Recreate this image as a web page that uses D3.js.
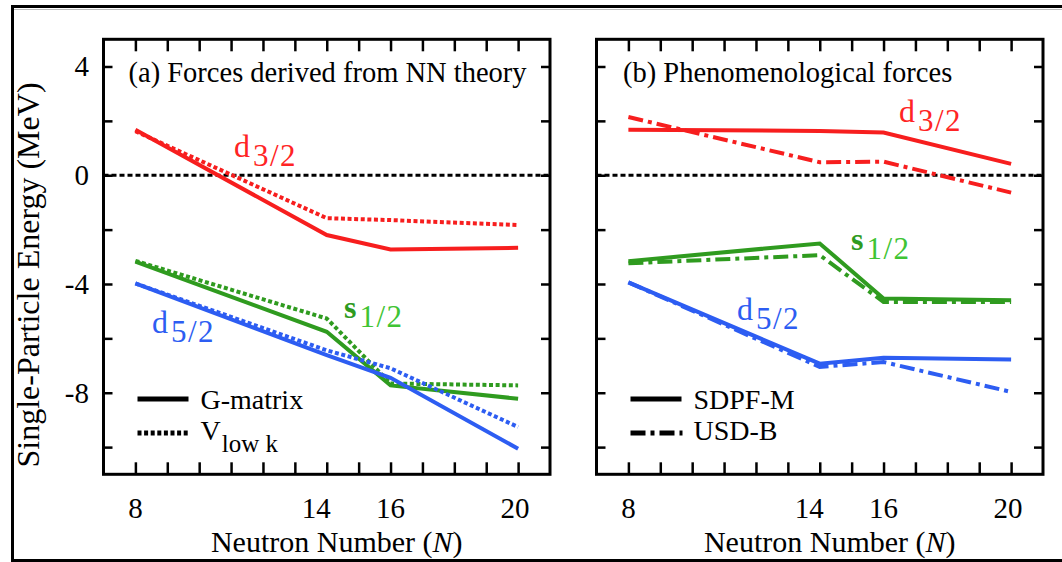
<!DOCTYPE html>
<html>
<head>
<meta charset="utf-8">
<script src="https://cdn.jsdelivr.net/npm/d3@7"></script>
<style>
  html, body { margin: 0; padding: 0; background: #fff; }
  svg { display: block; }
  text { font-family: "Liberation Serif", "Times New Roman", serif; }
</style>
</head>
<body>
<svg id="chart" width="1062" height="562"></svg>
<script>
// ---------------- data ----------------
const neutronN = [8, 14, 16, 20];

// panel (a): forces derived from NN theory
const gmD32  = [1.67, -2.20, -2.73, -2.67];
const vlkD32 = [1.62, -1.58, -1.65, -1.83];
const gmS12  = [-3.18, -5.76, -7.73, -8.22];
const vlkS12 = [-3.15, -5.27, -7.66, -7.73];
const gmD52  = [-3.98, -6.62, -7.45, -10.06];
const vlkD52 = [-3.98, -6.44, -7.10, -9.26];

// panel (b): phenomenological forces
const sdpfD32 = [1.67, 1.63, 1.57, 0.42];
const usdbD32 = [2.14, 0.48, 0.50, -0.64];
const sdpfS12 = [-3.16, -2.51, -4.53, -4.60];
const usdbS12 = [-3.24, -2.94, -4.66, -4.66];
const sdpfD52 = [-3.94, -6.93, -6.71, -6.78];
const usdbD52 = [-3.94, -7.05, -6.87, -7.97];

const xTickValues = d3.range(8, 21, 1);
const xTickLabels = ["8", "14", "16", "20"];
const xTickLabelAt = [8, 13.67, 16, 19.9];
const yTickValues = [4, 2, 0, -2, -4, -6, -8, -10];
const yTickLabels = [4, 0, -4, -8];

const panelTitles = ["(a) Forces derived from NN theory", "(b) Phenomenological forces"];
const legendNames = [["G-matrix", "V"], ["SDPF-M", "USD-B"]];

// ---------------- styles ----------------
const RED = "#f71e1e", GREEN = "#2f9b1f", GREEN_TXT = "#3fc434", BLUE = "#2d5df2";
const DOTTED = "4,2.6";
const DASHDOT = "15,5,4,5";

const svg = d3.select("#chart");

// outer figure frame
svg.append("rect").attr("x", 0).attr("y", 0).attr("width", 1062).attr("height", 562).attr("fill", "#fff");
svg.append("line").attr("x1", 11).attr("x2", 1062).attr("y1", 6.5).attr("y2", 6.5)
  .attr("stroke", "#000").attr("stroke-width", 3);
svg.append("line").attr("x1", 11).attr("x2", 1062).attr("y1", 9.5).attr("y2", 9.5)
  .attr("stroke", "#bbb").attr("stroke-width", 1);
svg.append("line").attr("x1", 12.5).attr("x2", 12.5).attr("y1", 5).attr("y2", 562)
  .attr("stroke", "#000").attr("stroke-width", 3);
svg.append("line").attr("x1", 11).attr("x2", 1062).attr("y1", 560.5).attr("y2", 560.5)
  .attr("stroke", "#000").attr("stroke-width", 3);

const yScale = d3.scaleLinear().domain([-11, 5]).range([474.3, 39.3]);

const panels = [
  { x0: 103.5, x1: 550, series: [
      { v: gmD32, c: RED, d: null }, { v: vlkD32, c: RED, d: DOTTED },
      { v: gmS12, c: GREEN, d: null }, { v: vlkS12, c: GREEN, d: DOTTED },
      { v: gmD52, c: BLUE, d: null }, { v: vlkD52, c: BLUE, d: DOTTED } ],
    legendDash: DOTTED },
  { x0: 596.5, x1: 1043, series: [
      { v: sdpfD32, c: RED, d: null }, { v: usdbD32, c: RED, d: DASHDOT },
      { v: sdpfS12, c: GREEN, d: null }, { v: usdbS12, c: GREEN, d: DASHDOT },
      { v: sdpfD52, c: BLUE, d: null }, { v: usdbD52, c: BLUE, d: DASHDOT } ],
    legendDash: DASHDOT }
];

panels.forEach((p, pi) => {
  const x = d3.scaleLinear().domain([7, 21]).range([p.x0, p.x1]);
  const g = svg.append("g");
  const top = yScale.range()[1], bot = yScale.range()[0];

  // zero line
  g.append("line").attr("x1", p.x0).attr("x2", p.x1)
    .attr("y1", yScale(0)).attr("y2", yScale(0))
    .attr("stroke", "#000").attr("stroke-width", 3).attr("stroke-dasharray", "5,3");

  // data lines
  const line = d3.line().x((d, i) => x(neutronN[i])).y(d => yScale(d));
  p.series.forEach(s => {
    g.append("path").datum(s.v).attr("d", line)
      .attr("fill", "none").attr("stroke", s.c).attr("stroke-width", 4)
      .attr("stroke-linejoin", "miter")
      .attr("stroke-dasharray", s.d);
  });

  // axes with inward ticks
  const axB = d3.axisBottom(x).tickValues(xTickValues).tickSize(-12).tickFormat("");
  const axT = d3.axisTop(x).tickValues(xTickValues).tickSize(-12).tickFormat("");
  const axL = d3.axisLeft(yScale).tickValues(yTickValues).tickSize(-9).tickFormat("");
  const axR = d3.axisRight(yScale).tickValues(yTickValues).tickSize(-9).tickFormat("");
  [[axB, `translate(0,${bot})`], [axT, `translate(0,${top})`],
   [axL, `translate(${p.x0},0)`], [axR, `translate(${p.x1},0)`]].forEach(([ax, tr]) => {
    const a = g.append("g").attr("transform", tr).call(ax);
    a.select(".domain").remove();
    a.selectAll(".tick line").attr("stroke", "#000").attr("stroke-width", 2.5);
  });

  // frame
  g.append("rect").attr("x", p.x0).attr("y", top)
    .attr("width", p.x1 - p.x0).attr("height", bot - top)
    .attr("fill", "none").attr("stroke", "#000").attr("stroke-width", 3);

  // x tick labels
  xTickLabels.forEach((t, i) => {
    g.append("text").attr("x", x(xTickLabelAt[i])).attr("y", 518)
      .attr("text-anchor", "middle").attr("font-size", 29).attr("fill", "#000").text(t);
  });

  // x axis title
  const xt = g.append("text").attr("x", (p.x0 + p.x1) / 2 + 10).attr("y", 552)
    .attr("text-anchor", "middle").attr("font-size", 30).attr("fill", "#000");
  xt.append("tspan").text("Neutron Number (");
  xt.append("tspan").attr("font-style", "italic").text("N");
  xt.append("tspan").text(")");

  // panel title
  g.append("text").attr("x", pi === 0 ? 128.5 : 623).attr("y", 82)
    .attr("font-size", 28.5).attr("fill", "#000").text(panelTitles[pi]);

  // legend
  const lx0 = p.x0 + 34, lx1 = p.x0 + 85;
  g.append("line").attr("x1", lx0).attr("x2", lx1).attr("y1", 399).attr("y2", 399)
    .attr("stroke", "#000").attr("stroke-width", 5);
  g.append("line").attr("x1", lx0).attr("x2", lx1 + 1).attr("y1", 433).attr("y2", 433)
    .attr("stroke", "#000").attr("stroke-width", 5).attr("stroke-dasharray", p.legendDash);
  g.append("text").attr("x", p.x0 + 97).attr("y", 409).attr("font-size", 28)
    .attr("fill", "#000").text(legendNames[pi][0]);
  const l2 = g.append("text").attr("x", p.x0 + 97).attr("y", 440).attr("font-size", 28).attr("fill", "#000");
  l2.append("tspan").text(legendNames[pi][1]);
  if (pi === 0) {
    l2.append("tspan").attr("font-size", 25).attr("dy", 12).attr("dx", 1).text("low k");
  }
});

// y tick labels & title (left panel only)
yTickLabels.forEach(t => {
  svg.append("text").attr("x", 89).attr("y", yScale(t) + 10)
    .attr("text-anchor", "end").attr("font-size", 29).attr("fill", "#000")
    .text(t < 0 ? "-" + Math.abs(t) : t);
});
svg.append("text").attr("transform", `translate(39,275) rotate(-90)`)
  .attr("text-anchor", "middle").attr("font-size", 32).attr("fill", "#000")
  .text("Single-Particle Energy (MeV)");

// orbital labels
function orbital(xp, yp, main, sub, color, subColor, bold) {
  const t = svg.append("text").attr("x", xp).attr("y", yp).attr("font-size", 32);
  t.append("tspan").attr("fill", color).attr("font-weight", bold ? "bold" : null).text(main);
  t.append("tspan").attr("dx", 3).attr("dy", 9).attr("font-size", 31)
    .attr("fill", subColor).attr("letter-spacing", 1.5).text(sub);
}
orbital(234, 157, "d", "3/2", "#ff2424", "#ff2424", false);
orbital(152, 333, "d", "5/2", BLUE, BLUE, false);
orbital(344, 318, "s", "1/2", GREEN, GREEN_TXT, true);
orbital(899, 122, "d", "3/2", "#ff2424", "#ff2424", false);
orbital(737, 320, "d", "5/2", BLUE, BLUE, false);
orbital(851, 250, "s", "1/2", GREEN, GREEN_TXT, true);
</script>
</body>
</html>
